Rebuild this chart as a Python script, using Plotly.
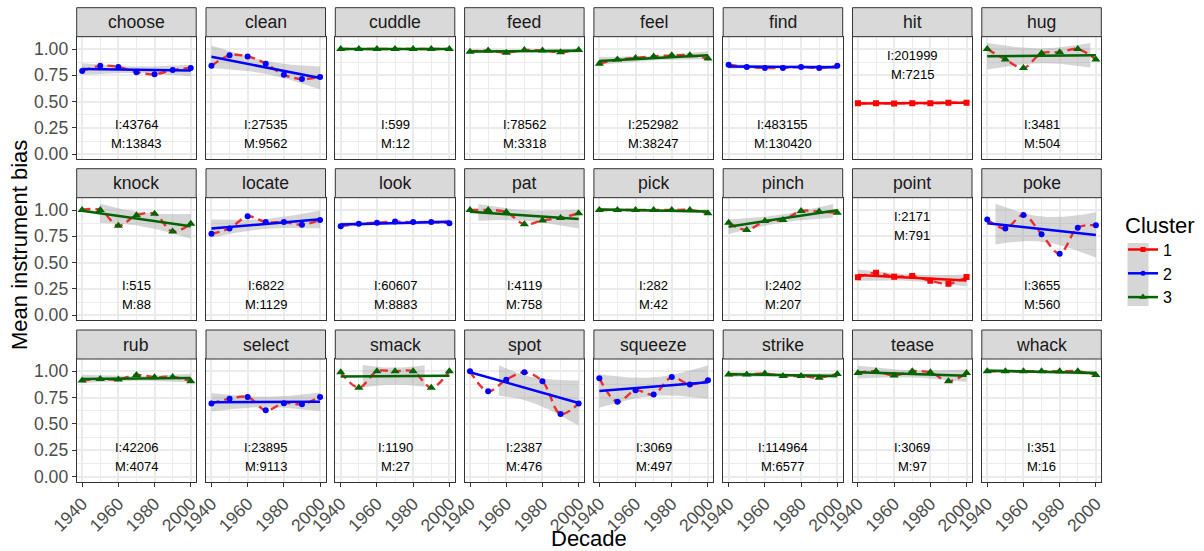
import numpy as np
import plotly.graph_objects as go

# ---------------- data ----------------
decades = [1940, 1950, 1960, 1970, 1980, 1990, 2000]
verbs = ["choose", "clean", "cuddle", "feed", "feel", "find", "hit", "hug",
         "knock", "locate", "look", "pat", "pick", "pinch", "point", "poke",
         "rub", "select", "smack", "spot", "squeeze", "strike", "tease", "whack"]
clusters = [2, 2, 3, 3, 3, 2, 1, 3,
            3, 2, 2, 3, 3, 3, 1, 2,
            3, 2, 3, 2, 2, 3, 3, 3]
instrument_counts = [43764, 27535, 599, 78562, 252982, 483155, 201999, 3481,
                     515, 6822, 60607, 4119, 282, 2402, 2171, 3655,
                     42206, 23895, 1190, 2387, 3069, 114964, 3069, 351]
main_counts = [13843, 9562, 12, 3318, 38247, 130420, 7215, 504,
               88, 1129, 8883, 758, 42, 207, 791, 560,
               4074, 9113, 27, 476, 497, 6577, 97, 16]

choose = [0.79, 0.84, 0.83, 0.78, 0.76, 0.80, 0.82]
clean = [0.84, 0.94, 0.93, 0.86, 0.755, 0.715, 0.735]
cuddle = [1.0, 1.0, 1.0, 1.0, 1.0, 1.0, 1.0]
feed = [0.975, 0.985, 0.965, 0.99, 0.985, 0.97, 0.99]
feel = [0.86, 0.90, 0.915, 0.93, 0.94, 0.94, 0.91]
find = [0.85, 0.83, 0.82, 0.82, 0.83, 0.82, 0.84]
hit = [0.485, 0.485, 0.483, 0.485, 0.485, 0.49, 0.49]
hug = [1.0, 0.90, 0.82, 0.96, 0.97, 1.0, 0.90]
knock = [1.0, 1.0, 0.85, 0.95, 0.965, 0.795, 0.87]
locate = [0.775, 0.825, 0.94, 0.885, 0.885, 0.86, 0.905]
look = [0.845, 0.87, 0.88, 0.89, 0.885, 0.885, 0.875]
pat = [1.0, 1.0, 0.98, 0.865, 0.90, 0.925, 0.97]
pick = [1.0, 1.0, 1.0, 1.0, 1.0, 1.0, 0.97]
pinch = [0.88, 0.81, 0.895, 0.905, 0.99, 0.985, 0.975]
point = [0.36, 0.405, 0.365, 0.372, 0.327, 0.30, 0.364]
poke = [0.91, 0.825, 0.953, 0.77, 0.585, 0.832, 0.855]
rub = [0.913, 0.928, 0.922, 0.966, 0.944, 0.947, 0.906]
select = [0.694, 0.74, 0.756, 0.63, 0.697, 0.688, 0.756]
smack = [0.99, 0.845, 1.0, 1.0, 1.0, 0.845, 1.0]
spot = [1.0, 0.81, 0.92, 0.99, 0.905, 0.595, 0.695]
squeeze = [0.935, 0.71, 0.82, 0.78, 0.945, 0.875, 0.915]
strike = [0.97, 0.97, 0.98, 0.955, 0.955, 0.94, 0.975]
tease = [0.985, 1.0, 0.96, 1.0, 0.99, 0.905, 0.985]
whack = [1.0, 1.0, 1.0, 1.0, 1.0, 1.0, 0.965]

series = [choose, clean, cuddle, feed, feel, find, hit, hug,
          knock, locate, look, pat, pick, pinch, point, poke,
          rub, select, smack, spot, squeeze, strike, tease, whack]

y_ticks = [0.0, 0.25, 0.5, 0.75, 1.0]
y_tick_labels = ["0.00", "0.25", "0.50", "0.75", "1.00"]
x_ticks = [1940, 1960, 1980, 2000]

# ---------------- styles ----------------
W, H = 1204, 551
FONT = "Liberation Sans"
cluster_color = {1: "#FF0000", 2: "#0000FF", 3: "#006400"}
cluster_symbol = {1: "square", 2: "circle", 3: "triangle-up"}
cluster_msize = {1: 6, 2: 6, 3: 8}
Y_LIMIT = 1.06          # scale limit: ribbon parts beyond are dropped (as ggplot does)
T975 = 2.5706           # t quantile, df = 5
X_RANGE = [1937, 2003]
Y_RANGE = [-0.047, 1.117]
TICK_SIZE = 17.6
TITLE_SIZE = 22

col_left = [76.7 + c * 129.3 for c in range(8)]
panel_w = 119.5
row_top = [36.7, 197.7, 359.0]
panel_h = 122.5
strip_h = 29.0

fig = go.Figure()
layout = {}
shapes = []
annotations = []

xs_fine = np.linspace(1940, 2000, 80)
xd = np.array(decades, dtype=float)

for i, verb in enumerate(verbs):
    r, c = divmod(i, 8)
    k = i + 1
    xa = "x" if k == 1 else f"x{k}"
    ya = "y" if k == 1 else f"y{k}"
    cl = clusters[i]
    col = cluster_color[cl]
    yv = np.array(series[i], dtype=float)

    # lm fit and confidence band
    coef = np.polyfit(xd, yv, 1)
    fit = np.polyval(coef, xs_fine)
    resid = yv - np.polyval(coef, xd)
    n = len(xd)
    s = np.sqrt(np.sum(resid ** 2) / (n - 2))
    sxx = np.sum((xd - xd.mean()) ** 2)
    se = s * np.sqrt(1.0 / n + (xs_fine - xd.mean()) ** 2 / sxx)
    lo, hi = fit - T975 * se, fit + T975 * se
    ok = (hi <= Y_LIMIT) & (lo >= 0)
    runs = []
    start = None
    for j, v in enumerate(ok):
        if v and start is None:
            start = j
        if not v and start is not None:
            runs.append((start, j))
            start = None
    if start is not None:
        runs.append((start, len(ok)))
    for a, b in runs:
        px = list(xs_fine[a:b]) + list(xs_fine[a:b][::-1])
        py = list(hi[a:b]) + list(lo[a:b][::-1])
        fig.add_trace(go.Scatter(x=px, y=py, xaxis=xa, yaxis=ya, mode="lines",
                                 fill="toself", fillcolor="rgba(153,153,153,0.4)",
                                 line=dict(width=0), hoverinfo="skip", showlegend=False))

    # dashed red smooth
    fig.add_trace(go.Scatter(x=decades, y=series[i], xaxis=xa, yaxis=ya, mode="lines",
                             line=dict(color="rgba(235,30,30,0.9)", width=2.4, dash="8px,5px",
                                       shape="spline", smoothing=1.0),
                             hoverinfo="skip", showlegend=False))
    # lm line
    fig.add_trace(go.Scatter(x=[xs_fine[0], xs_fine[-1]], y=[fit[0], fit[-1]], xaxis=xa, yaxis=ya,
                             mode="lines", line=dict(color=col, width=2.5),
                             hoverinfo="skip", showlegend=False))
    # points
    fig.add_trace(go.Scatter(x=decades, y=series[i], xaxis=xa, yaxis=ya, mode="markers",
                             marker=dict(color=col, symbol=cluster_symbol[cl], size=cluster_msize[cl],
                                         line=dict(width=0)),
                             showlegend=False))

    # axes
    x0 = col_left[c] / W
    x1 = (col_left[c] + panel_w) / W
    top = row_top[r]
    bot = top + panel_h
    y0 = 1 - bot / H
    y1 = 1 - top / H
    layout["xaxis" if k == 1 else f"xaxis{k}"] = dict(
        domain=[x0, x1], anchor=ya, range=X_RANGE, tickmode="array", tickvals=x_ticks,
        ticktext=[str(t) for t in x_ticks], showticklabels=(r == 2),
        ticks="outside" if r == 2 else "", ticklen=4, tickcolor="#333333", tickwidth=1,
        tickangle=-45, tickfont=dict(family=FONT, size=TICK_SIZE, color="#4D4D4D"),
        showgrid=True, gridcolor="#EBEBEB", gridwidth=1.5,
        minor=dict(tickvals=[1950, 1970, 1990], showgrid=True, gridcolor="#EBEBEB",
                   gridwidth=0.8, ticks=""),
        showline=True, mirror=True, linecolor="#333333", linewidth=1, zeroline=False,
        automargin=False, fixedrange=True)
    layout["yaxis" if k == 1 else f"yaxis{k}"] = dict(
        domain=[y0, y1], anchor=xa, range=Y_RANGE, tickmode="array", tickvals=y_ticks,
        ticktext=y_tick_labels, showticklabels=(c == 0),
        ticks="outside" if c == 0 else "", ticklen=4, tickcolor="#333333", tickwidth=1,
        tickfont=dict(family=FONT, size=TICK_SIZE, color="#4D4D4D"),
        showgrid=True, gridcolor="#EBEBEB", gridwidth=1.5,
        minor=dict(tickvals=[0.125, 0.375, 0.625, 0.875], showgrid=True, gridcolor="#EBEBEB",
                   gridwidth=0.8, ticks=""),
        showline=True, mirror=True, linecolor="#333333", linewidth=1, zeroline=False,
        automargin=False, fixedrange=True)

    # strip
    shapes.append(dict(type="rect", xref="paper", yref="paper", x0=x0, x1=x1,
                       y0=y1, y1=1 - (top - strip_h) / H,
                       fillcolor="#D9D9D9", line=dict(color="#333333", width=1), layer="above"))
    annotations.append(dict(xref="paper", yref="paper", x=(x0 + x1) / 2,
                            y=1 - (top - strip_h / 2) / H, text=verb, showarrow=False,
                            font=dict(family=FONT, size=TICK_SIZE, color="#1A1A1A"),
                            xanchor="center", yanchor="middle"))
    # counts text
    low = float(np.mean(yv)) < 0.6
    yi, ym = (0.94, 0.76) if low else (0.28, 0.10)
    annotations.append(dict(xref=xa, yref=ya, x=1970, y=yi, text=f"I:{instrument_counts[i]}",
                            showarrow=False, font=dict(family=FONT, size=13, color="black")))
    annotations.append(dict(xref=xa, yref=ya, x=1970, y=ym, text=f"M:{main_counts[i]}",
                            showarrow=False, font=dict(family=FONT, size=13, color="black")))

# legend entries
for cl in [1, 2, 3]:
    fig.add_trace(go.Scatter(x=[None], y=[None], mode="lines+markers", name=str(cl),
                             line=dict(color=cluster_color[cl], width=2.5),
                             marker=dict(color=cluster_color[cl], symbol=cluster_symbol[cl],
                                         size=cluster_msize[cl] - 1),
                             showlegend=True))

# legend key background
shapes.append(dict(type="rect", xref="paper", yref="paper",
                   x0=1127.5 / W, x1=1148.5 / W, y0=1 - 306 / H, y1=1 - 243 / H,
                   fillcolor="#D6D6D6", line=dict(width=0), layer="below"))

# axis titles
annotations.append(dict(xref="paper", yref="paper", x=(76.7 + 1102) / 2 / W, y=1 - 538 / H,
                        text="Decade", showarrow=False, xanchor="center", yanchor="middle",
                        font=dict(family=FONT, size=TITLE_SIZE, color="black")))
annotations.append(dict(xref="paper", yref="paper", x=19 / W, y=1 - 245 / H,
                        text="Mean instrument bias", showarrow=False, textangle=-90,
                        xanchor="center", yanchor="middle",
                        font=dict(family=FONT, size=TITLE_SIZE, color="black")))

fig.update_layout(
    width=W, height=H, margin=dict(l=0, r=0, t=0, b=0, autoexpand=False),
    paper_bgcolor="white", plot_bgcolor="white",
    font=dict(family=FONT),
    shapes=shapes, annotations=annotations,
    legend=dict(x=1123 / W, xanchor="left", y=1 - 204 / H, yanchor="top",
                title=dict(text="Cluster", font=dict(family=FONT, size=TITLE_SIZE, color="black")),
                font=dict(family=FONT, size=16, color="black"),
                bgcolor="rgba(0,0,0,0)", itemwidth=30, tracegroupgap=0),
    **layout,
)

fig.write_html("out.html")
